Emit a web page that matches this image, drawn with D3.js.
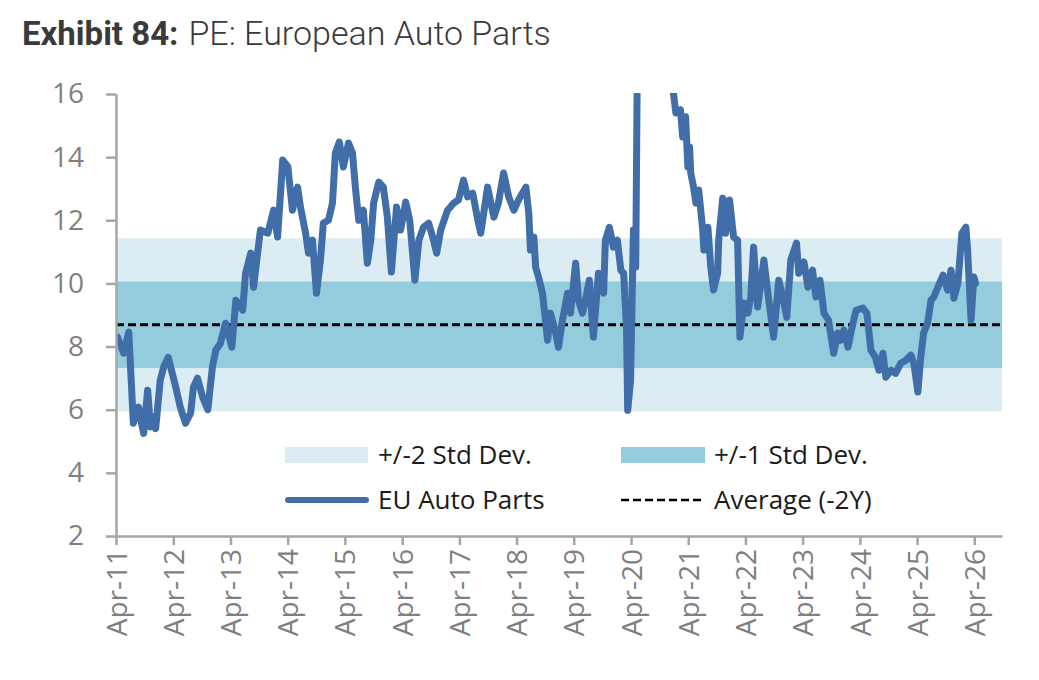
<!DOCTYPE html>
<html>
<head>
<meta charset="utf-8">
<script src="https://cdn.jsdelivr.net/npm/d3@7"></script>
<style>
  body { margin: 0; background: #fff; }
  svg { display: block; }
</style>
</head>
<body>
<svg id="chart" width="1039" height="680"></svg>
<script>
// weekly-ish PE readings, [decimal year, PE]
const euAutoParts = [
  [2011.27, 8.31], [2011.38, 7.79], [2011.47, 8.46], [2011.55, 5.57], [2011.64, 6.08],
  [2011.69, 5.6], [2011.73, 5.25], [2011.80, 6.62], [2011.85, 5.45], [2011.90, 5.77],
  [2011.94, 5.4], [2012.02, 6.93], [2012.08, 7.35], [2012.16, 7.66], [2012.23, 7.15],
  [2012.29, 6.72], [2012.37, 6.08], [2012.46, 5.57], [2012.55, 5.89], [2012.60, 6.72],
  [2012.67, 7.0], [2012.76, 6.4], [2012.85, 6.0], [2012.93, 7.35], [2012.99, 7.89],
  [2013.07, 8.1], [2013.16, 8.74], [2013.27, 7.98], [2013.34, 9.47], [2013.46, 9.15],
  [2013.51, 10.32], [2013.60, 10.96], [2013.65, 9.88], [2013.72, 10.96], [2013.77, 11.69],
  [2013.90, 11.59], [2014.00, 12.32], [2014.07, 11.47], [2014.16, 13.91], [2014.25, 13.69],
  [2014.33, 12.32], [2014.42, 13.05], [2014.47, 12.42], [2014.56, 11.59], [2014.61, 10.96],
  [2014.68, 11.37], [2014.75, 9.69], [2014.82, 10.74], [2014.87, 11.91], [2014.96, 12.0],
  [2015.03, 12.55], [2015.08, 14.13], [2015.15, 14.48], [2015.22, 13.69], [2015.31, 14.45],
  [2015.38, 14.13], [2015.43, 13.05], [2015.49, 12.0], [2015.57, 12.32], [2015.64, 10.64],
  [2015.70, 11.37], [2015.75, 12.55], [2015.84, 13.21], [2015.92, 13.05], [2015.99, 12.1],
  [2016.06, 10.36], [2016.15, 12.42], [2016.22, 11.69], [2016.31, 12.58], [2016.38, 12.0],
  [2016.47, 10.1], [2016.54, 11.37], [2016.62, 11.78], [2016.71, 11.91], [2016.78, 11.47],
  [2016.85, 10.96], [2016.92, 11.69], [2017.04, 12.32], [2017.15, 12.55], [2017.23, 12.64],
  [2017.32, 13.27], [2017.39, 12.74], [2017.48, 12.86], [2017.57, 12.0], [2017.62, 11.59],
  [2017.74, 13.05], [2017.85, 12.1], [2017.93, 12.55], [2018.02, 13.5], [2018.11, 12.74],
  [2018.20, 12.32], [2018.28, 12.64], [2018.41, 13.05], [2018.46, 12.23], [2018.49, 11.06],
  [2018.55, 11.47], [2018.58, 10.52], [2018.63, 10.2], [2018.70, 9.69], [2018.79, 8.2],
  [2018.84, 9.06], [2018.93, 8.43], [2018.98, 7.98], [2019.05, 8.84], [2019.14, 9.69],
  [2019.19, 9.06], [2019.28, 10.64], [2019.33, 9.47], [2019.40, 9.06], [2019.45, 9.47],
  [2019.52, 10.1], [2019.59, 8.3], [2019.68, 10.32], [2019.77, 9.69], [2019.80, 11.37],
  [2019.87, 11.78], [2019.94, 11.15], [2020.01, 11.37], [2020.07, 10.42], [2020.12, 10.32],
  [2020.17, 8.52], [2020.19, 5.98], [2020.24, 6.93], [2020.29, 11.69], [2020.33, 10.52],
  [2020.36, 17.5], [2020.45, 22], [2020.60, 26], [2020.75, 24], [2020.87, 19],
  [2020.95, 17.0], [2020.99, 16.0], [2021.03, 15.4], [2021.11, 15.5], [2021.15, 14.64],
  [2021.20, 15.28], [2021.24, 13.69], [2021.27, 14.32], [2021.29, 13.5], [2021.34, 13.05],
  [2021.38, 12.55], [2021.43, 12.96], [2021.50, 11.69], [2021.52, 11.06], [2021.59, 11.78],
  [2021.64, 10.52], [2021.69, 9.79], [2021.76, 10.32], [2021.78, 11.37], [2021.85, 12.7],
  [2021.90, 11.59], [2021.97, 12.64], [2022.04, 11.47], [2022.11, 11.37], [2022.15, 8.3],
  [2022.22, 9.38], [2022.29, 9.06], [2022.34, 9.57], [2022.39, 11.15], [2022.46, 9.25],
  [2022.57, 10.74], [2022.64, 9.69], [2022.74, 8.3], [2022.83, 10.1], [2022.90, 9.57],
  [2022.97, 8.93], [2023.04, 10.74], [2023.14, 11.28], [2023.18, 10.32], [2023.27, 10.68],
  [2023.34, 9.88], [2023.42, 10.42], [2023.48, 9.57], [2023.55, 10.1], [2023.62, 9.06],
  [2023.70, 8.84], [2023.79, 7.79], [2023.86, 8.43], [2023.91, 8.2], [2023.97, 8.52],
  [2024.04, 7.98], [2024.09, 8.43], [2024.18, 9.15], [2024.30, 9.22], [2024.37, 9.06],
  [2024.44, 7.89], [2024.52, 7.66], [2024.58, 7.25], [2024.65, 7.79], [2024.70, 7.03],
  [2024.79, 7.25], [2024.87, 7.15], [2024.96, 7.47], [2025.05, 7.57], [2025.14, 7.73],
  [2025.19, 7.47], [2025.26, 6.56], [2025.31, 7.66], [2025.36, 8.43], [2025.43, 8.74],
  [2025.49, 9.47], [2025.54, 9.57], [2025.61, 9.88], [2025.70, 10.26], [2025.78, 9.79],
  [2025.84, 10.42], [2025.89, 9.53], [2025.96, 10.0], [2026.03, 11.59], [2026.10, 11.78],
  [2026.13, 11.06], [2026.19, 8.84], [2026.24, 10.2], [2026.27, 10.0]
];

const average2y = 8.69;
const stdDev = 1.37;
const yTicks = [2, 4, 6, 8, 10, 12, 14, 16];
const tickYears = d3.range(2011, 2027);
const legendLabels = ["+/-2 Std Dev.", "+/-1 Std Dev.", "EU Auto Parts", "Average (-2Y)"];

const colors = { line: "#416ea8", band2: "#dbedf3", band1: "#93cddd", axis: "#a6a6a6", tick: "#7f7f7f" };
const plot = { left: 116, right: 1002, top: 94, bottom: 536 };

function decToDate(t) {
    const y = Math.floor(t);
    const start = new Date(y, 0, 1), end = new Date(y + 1, 0, 1);
    return new Date(+start + (t - y) * (end - start));
}

const svg = d3.select("#chart");

const x = d3.scaleTime()
    .domain([new Date(2011, 3, 1), new Date(2026, 8, 25)])
    .range([plot.left, plot.right]);

const y = d3.scaleLinear()
    .domain([2, 16])
    .range([plot.bottom, plot.top]);

// title
const title = svg.append("text")
    .attr("x", 22)
    .attr("y", 45)
    .style("font-family", "Roboto")
    .style("font-size", "33px")
    .attr("fill", "#3a3a3a");
title.append("tspan").style("font-weight", 700).text("Exhibit 84:");
title.append("tspan").attr("dx", 10).style("font-size", "34px").style("font-weight", 300).text("PE: European Auto Parts");

// std dev bands
svg.append("rect")
    .attr("x", plot.left)
    .attr("width", plot.right - plot.left)
    .attr("y", y(average2y + 2 * stdDev))
    .attr("height", y(average2y - 2 * stdDev) - y(average2y + 2 * stdDev))
    .attr("fill", colors.band2);

svg.append("rect")
    .attr("x", plot.left)
    .attr("width", plot.right - plot.left)
    .attr("y", y(average2y + stdDev))
    .attr("height", y(average2y - stdDev) - y(average2y + stdDev))
    .attr("fill", colors.band1);

// clip for the 2020 spike
svg.append("clipPath").attr("id", "plot-clip")
    .append("rect")
    .attr("x", plot.left)
    .attr("y", plot.top - 1)
    .attr("width", plot.right - plot.left)
    .attr("height", plot.bottom - plot.top + 1);

svg.append("line")
    .attr("x1", plot.left)
    .attr("x2", plot.right)
    .attr("y1", y(average2y))
    .attr("y2", y(average2y))
    .attr("stroke", "#000")
    .attr("stroke-width", 3)
    .attr("stroke-dasharray", "8,4");

const line = d3.line()
    .x(d => x(decToDate(d[0])))
    .y(d => y(d[1]));

svg.append("path")
    .datum(euAutoParts)
    .attr("clip-path", "url(#plot-clip)")
    .attr("d", line)
    .attr("fill", "none")
    .attr("stroke", colors.line)
    .attr("stroke-width", 7)
    .attr("stroke-linejoin", "round")
    .attr("stroke-linecap", "round");

// axes
const yAxis = svg.append("g")
    .attr("transform", `translate(${plot.left},0)`)
    .call(d3.axisLeft(y).tickValues(yTicks).tickSize(10).tickSizeOuter(0).tickPadding(22));

const xAxis = svg.append("g")
    .attr("transform", `translate(0,${plot.bottom})`)
    .call(d3.axisBottom(x)
        .tickValues(tickYears.map(yr => new Date(yr, 3, 1)))
        .tickFormat(d3.timeFormat("%b-%y"))
        .tickSize(9)
        .tickSizeOuter(0));

[yAxis, xAxis].forEach(g => {
    g.select(".domain").attr("stroke", colors.axis).attr("stroke-width", 2.5);
    g.selectAll(".tick line").attr("stroke", colors.axis).attr("stroke-width", 2.5);
    g.selectAll(".tick text")
        .attr("fill", colors.tick)
        .style("font-family", "'Open Sans'")
        .style("font-size", "28px");
});

xAxis.selectAll(".tick text")
    .attr("transform", "rotate(-90)")
    .attr("text-anchor", "end")
    .attr("x", -13)
    .attr("y", 0)
    .attr("dy", "0.36em");

// legend
const legend = svg.append("g").style("font-family", "'Open Sans'").style("font-size", "26px");
const legendPos = [[285, 455], [621, 455], [285, 500], [621, 500]];

legend.append("rect").attr("x", legendPos[0][0]).attr("y", legendPos[0][1] - 8)
    .attr("width", 83).attr("height", 16).attr("fill", colors.band2);
legend.append("rect").attr("x", legendPos[1][0]).attr("y", legendPos[1][1] - 8)
    .attr("width", 84).attr("height", 16).attr("fill", colors.band1);
legend.append("line")
    .attr("x1", legendPos[2][0] + 3).attr("x2", legendPos[2][0] + 81)
    .attr("y1", legendPos[2][1]).attr("y2", legendPos[2][1])
    .attr("stroke", colors.line).attr("stroke-width", 6).attr("stroke-linecap", "round");
legend.append("line")
    .attr("x1", legendPos[3][0]).attr("x2", legendPos[3][0] + 84)
    .attr("y1", legendPos[3][1]).attr("y2", legendPos[3][1])
    .attr("stroke", "#000").attr("stroke-width", 2.5).attr("stroke-dasharray", "8,4");

legend.selectAll("text")
    .data(legendLabels)
    .join("text")
    .attr("x", (d, i) => legendPos[i][0] + 93)
    .attr("y", (d, i) => legendPos[i][1])
    .attr("dy", "0.35em")
    .attr("fill", "#1a1a1a")
    .text(d => d);
</script>
</body>
</html>
